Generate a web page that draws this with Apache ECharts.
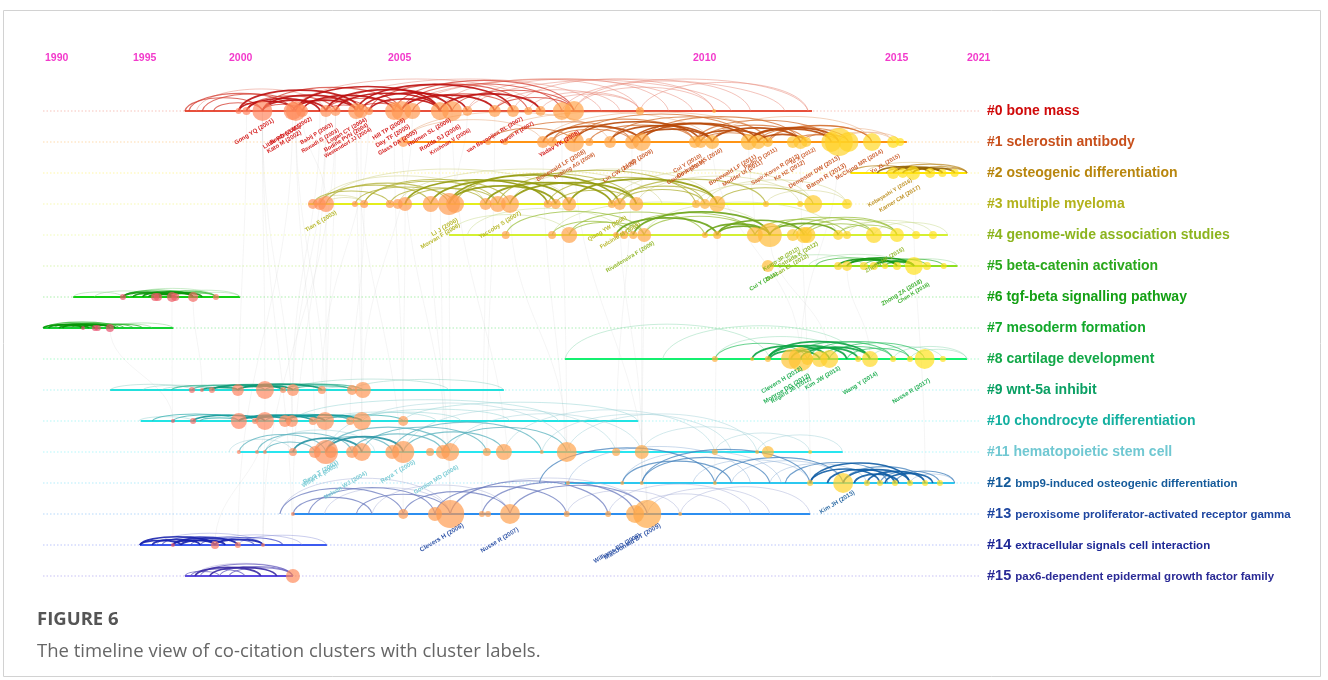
<!DOCTYPE html>
<html>
<head>
<meta charset="utf-8">
<title>Timeline view of co-citation clusters</title>
<script src="https://cdn.jsdelivr.net/npm/echarts@6/dist/echarts.min.js"></script>
<style>
  html, body { margin: 0; padding: 0; background: #ffffff; }
  #chart { position: absolute; left: 0; top: 0; width: 1328px; height: 680px; }
</style>
</head>
<body>
<div id="chart"></div>
<script>
// ---------------------------------------------------------------------------
// Data
// ---------------------------------------------------------------------------
const YEAR_TICKS = [1990, 1995, 2000, 2005, 2010, 2015, 2021];

const CLUSTER_IDS = ['#0', '#1', '#2', '#3', '#4', '#5', '#6', '#7', '#8', '#9', '#10', '#11', '#12', '#13', '#14', '#15'];
const CLUSTER_NAMES = [
  'bone mass', 'sclerostin antibody', 'osteogenic differentiation', 'multiple myeloma',
  'genome-wide association studies', 'beta-catenin activation', 'tgf-beta signalling pathway',
  'mesoderm formation', 'cartilage development', 'wnt-5a inhibit', 'chondrocyte differentiation',
  'hematopoietic stem cell', 'bmp9-induced osteogenic differentiation',
  'peroxisome proliferator-activated receptor gamma', 'extracellular signals cell interaction',
  'pax6-dependent epidermal growth factor family'
];

// active period of each cluster (first year, last year)
const CLUSTER_SPANS = [
  [1997.7, 2013.1], [2005.25, 2016.6], [2014.1, 2021.0], [2002.5, 2014.1],
  [2006.0, 2019.6], [2012.0, 2020.3], [1991.6, 2000.35], [1989.9, 1997.1],
  [2007.9, 2021.0], [1993.7, 2006.9], [1995.4, 2009.1], [2000.35, 2013.9],
  [2007.9, 2020.1], [2002.0, 2013.05], [1995.36, 2003.08], [1997.71, 2002.01]
];

// cited references per cluster: [year, citations, label]
const NODES_0 = [
  [2000.3, 9], [2000.55, 16], [2001.05, 100, 'Gong YQ (2001)'], [2002.0, 81, 'Little RD (2002)'],
  [2002.1, 100, 'Kato M (2002)'], [2002.3, 36, 'Boyden LM (2002)'], [2003.05, 36, 'Babij P (2003)'],
  [2003.35, 25, 'Rawadi G (2003)'], [2004.0, 64, 'Logan CY (2004)'], [2004.15, 49, 'Bodine PVN (2004)'],
  [2004.4, 16, 'Westendorf JJ (2004)'], [2005.1, 81, 'Hill TP (2005)'], [2005.22, 100, 'Day TF (2005)'],
  [2005.4, 64, 'Glass DA (2005)'], [2005.85, 81, 'Holmen SL (2005)'], [2006.05, 100, 'Rodda SJ (2006)'],
  [2006.3, 25, 'Krishnan V (2006)'], [2006.75, 36], [2007.05, 36, 'van Bezooijen RL (2007)'],
  [2007.3, 16, 'Baron R (2007)'], [2007.5, 25], [2007.85, 81], [2008.05, 100, 'Yadav VK (2008)'],
  [2009.13, 16], [2010.55, 4]
];
const NODES_1 = [
  [2005.25, 25], [2006.64, 9], [2006.92, 9], [2007.54, 36], [2007.69, 25],
  [2008.05, 100, 'Bonewald LF (2008)'], [2008.3, 16, 'Robling AG (2008)'], [2008.64, 36],
  [2009.0, 49, 'Lin CW (2009)'], [2009.16, 81, 'Li XD (2009)'], [2010.05, 36, 'Cui Y (2010)'],
  [2010.2, 36, 'Gaudio A (2010)'], [2010.5, 49, 'Ominsky MS (2010)'], [2011.45, 64, 'Bonewald LF (2011)'],
  [2011.7, 49, 'Modder UI (2011)'], [2011.95, 25, 'Padhi D (2011)'], [2012.6, 36, 'Sapir-Koren R (2012)'],
  [2012.8, 49, 'Ke HZ (2012)'], [2012.95, 25, 'Tu X (2012)'], [2013.6, 100, 'Dempster DW (2013)'],
  [2013.8, 196, 'Baron R (2013)'], [2014.05, 100], [2014.66, 81, 'McClung MR (2014)'],
  [2015.6, 36, 'Yu XL (2015)'], [2016.1, 16]
];
const NODES_2 = [
  [2015.6, 36], [2016.3, 25, 'Kobayashi Y (2016)'], [2017.05, 49, 'Karner CM (2017)'],
  [2018.3, 25], [2019.2, 16], [2020.1, 16]
];
const NODES_3 = [
  [2002.64, 25], [2002.86, 36], [2003.05, 64, 'Tian E (2003)'], [2003.96, 9], [2004.25, 16],
  [2005.03, 16], [2005.16, 25], [2005.28, 49], [2005.7, 64], [2006.0, 121, 'Li J (2006)'],
  [2006.1, 81, 'Morvan F (2006)'], [2006.6, 36], [2006.8, 64], [2007.0, 81, 'Yaccoby S (2007)'],
  [2007.62, 16], [2007.75, 25], [2007.97, 49], [2008.67, 16], [2008.8, 36, 'Qiang YW (2008)'],
  [2009.07, 49, 'Fulciniti M (2009)'], [2010.08, 16], [2010.31, 25], [2010.63, 64],
  [2011.9, 9], [2012.79, 9], [2013.13, 81], [2014.01, 25]
];
const NODES_4 = [
  [2006.93, 16], [2007.69, 16], [2007.97, 64], [2008.74, 9], [2008.87, 16], [2009.02, 16],
  [2009.2, 49, 'Rivadeneira F (2009)'], [2010.31, 9], [2010.63, 16], [2011.61, 64],
  [2012.0, 144], [2012.6, 36, 'Kemp JP (2012)'], [2012.89, 64, 'Duncan EL (2012)'],
  [2012.98, 64, 'Estrada K (2012)'], [2013.78, 25], [2014.01, 16], [2014.71, 64],
  [2015.88, 49, 'Zheng HF (2015)'], [2017.27, 16], [2018.51, 16]
];
const NODES_5 = [
  [2011.95, 36, 'Cui Y (2011)'], [2013.78, 16], [2014.01, 25], [2014.45, 16], [2014.71, 16],
  [2015.0, 9], [2015.88, 16], [2017.12, 81, 'Zhong ZA (2018)'], [2018.07, 16, 'Chen K (2018)'],
  [2019.3, 9]
];
const NODES_6 = [
  [1994.43, 9], [1996.15, 16], [1996.3, 16], [1997.03, 25], [1997.2, 16], [1998.13, 25], [1999.32, 9]
];
const NODES_7 = [[1992.16, 4], [1992.84, 9], [1993.0, 9], [1993.69, 16]];
const NODES_8 = [
  [2010.57, 9], [2011.54, 4], [2011.95, 9], [2012.55, 100, 'Clevers H (2012)'],
  [2012.8, 144, 'Monroe DG (2012)'], [2012.98, 36, 'Regard JB (2012)'], [2013.3, 64],
  [2013.55, 81, 'Kim JW (2013)'], [2014.3, 9], [2014.61, 64, 'Wang Y (2014)'], [2015.59, 9],
  [2016.83, 9], [2017.9, 100, 'Nusse R (2017)'], [2019.24, 9]
];
const NODES_9 = [
  [1998.07, 9], [1998.59, 4], [1999.11, 9], [2000.28, 36], [2001.13, 81], [2001.7, 9],
  [2002.01, 36], [2002.92, 16], [2003.87, 25], [2004.21, 64]
];
const NODES_10 = [
  [1997.08, 4], [1998.13, 9], [2000.31, 64], [2000.82, 9], [2001.13, 81], [2001.76, 36],
  [2001.98, 36], [2002.64, 16], [2003.02, 81], [2003.81, 16], [2004.18, 81], [2005.25, 25]
];
const NODES_11 = [
  [2000.31, 4], [2000.88, 4], [2001.13, 4], [2002.01, 16], [2002.7, 36],
  [2003.05, 144, 'Reya T (2003)'], [2003.2, 36, 'Willert K (2003)'], [2003.87, 36],
  [2004.18, 81, 'Nelson WJ (2004)'], [2005.07, 49], [2005.25, 121, 'Reya T (2005)'],
  [2005.69, 16], [2005.9, 49], [2006.02, 81, 'Gordon MD (2006)'], [2006.62, 16], [2006.9, 64],
  [2007.52, 4], [2007.93, 100], [2008.74, 16], [2009.16, 49], [2010.57, 9], [2011.67, 4],
  [2011.95, 36], [2013.05, 4]
];
const NODES_12 = [
  [2007.95, 4], [2008.84, 4], [2009.16, 4], [2010.57, 4], [2013.05, 9], [2013.91, 100, 'Kim JH (2013)'],
  [2014.53, 9], [2014.87, 9], [2015.73, 9], [2016.83, 9], [2017.93, 9], [2019.02, 9]
];
const NODES_13 = [
  [2002.01, 4], [2005.25, 25], [2005.77, 49], [2006.02, 196, 'Clevers H (2006)'], [2006.54, 9],
  [2006.64, 9], [2007.0, 100, 'Nusse R (2007)'], [2007.93, 9], [2008.61, 9],
  [2009.05, 81, 'Williams BO (2009)'], [2009.25, 196, 'MacDonald BT (2009)'], [2009.79, 4]
];
const NODES_14 = [[1997.08, 4], [1999.27, 16], [2000.28, 9], [2001.07, 4]];
const NODES_15 = [[2002.01, 49]];

// co-citation links inside each cluster: [from year, to year, strength 1..3]
const ARCS_0 = [
  [1997.7, 2001.05, 2], [1997.9, 2002.0, 2], [1998.3, 2003.05, 1], [2000.3, 2002.1, 3],
  [2000.55, 2003.35, 2], [2001.05, 2003.05, 3], [2001.05, 2004.0, 3], [2001.05, 2005.22, 2],
  [2002.0, 2004.0, 3], [2002.1, 2005.85, 3], [2003.05, 2005.22, 2], [2003.35, 2005.85, 3],
  [2004.0, 2005.22, 2], [2004.0, 2007.05, 3], [2005.22, 2006.75, 3], [2005.22, 2007.85, 2],
  [2005.85, 2007.5, 3], [2005.85, 2009.13, 1], [2006.75, 2008.05, 2], [2007.05, 2010.55, 1],
  [2007.5, 2009.13, 1], [2008.05, 2010.55, 1], [2007.85, 2013.0, 1], [2009.13, 2013.0, 1],
  [2002.0, 2007.5, 1], [2003.35, 2008.5, 1], [2005.22, 2011.0, 1], [2006.3, 2012.4, 1],
  [1998.6, 2002.3, 2], [2000.3, 2004.15, 3], [2002.3, 2005.1, 3], [2002.1, 2004.4, 2],
  [2003.05, 2006.05, 3], [2004.15, 2006.3, 3], [2005.1, 2008.05, 2], [2004.4, 2007.3, 2],
  [2006.05, 2008.05, 2], [2001.05, 2002.3, 2], [2006.3, 2009.6, 1], [2005.4, 2010.0, 1],
  [1999.2, 2001.05, 2], [2000.55, 2002.86, 3], [2003.05, 2004.15, 2], [2004.4, 2005.85, 3],
  [2005.4, 2007.05, 2], [2006.75, 2008.8, 1], [2007.3, 2009.13, 1], [2008.05, 2011.5, 1]
];
const ARCS_1 = [
  [2005.25, 2007.54, 1], [2005.25, 2008.64, 1], [2006.64, 2008.05, 2], [2006.92, 2009.0, 2],
  [2007.54, 2009.16, 3], [2007.69, 2010.05, 2], [2008.05, 2010.2, 3], [2008.05, 2011.45, 2],
  [2008.64, 2010.5, 3], [2009.0, 2011.45, 3], [2009.16, 2011.7, 3], [2009.16, 2012.8, 2],
  [2010.05, 2011.95, 3], [2010.2, 2012.95, 2], [2010.5, 2012.8, 3], [2011.45, 2013.8, 3],
  [2011.7, 2014.05, 2], [2011.95, 2014.66, 2], [2012.8, 2014.05, 2], [2012.95, 2015.6, 1],
  [2013.8, 2016.1, 1], [2010.5, 2014.66, 1], [2007.54, 2012.0, 1], [2006.64, 2010.5, 1],
  [2008.3, 2010.05, 2], [2009.0, 2010.5, 3], [2011.45, 2013.6, 3], [2012.6, 2013.8, 2],
  [2010.2, 2011.7, 2], [2012.0, 2014.66, 2], [2013.6, 2015.6, 1], [2007.69, 2009.0, 2],
  [2008.64, 2011.95, 2], [2010.05, 2013.6, 2], [2011.7, 2012.95, 3]
];
const ARCS_2 = [
  [2014.1, 2017.05, 2], [2014.8, 2018.3, 3], [2015.6, 2019.2, 3], [2015.6, 2021.0, 2],
  [2017.05, 2020.1, 3], [2017.05, 2021.0, 2], [2018.3, 2021.0, 2], [2014.5, 2020.1, 1],
  [2016.3, 2019.2, 3], [2015.1, 2018.3, 2]
];
const ARCS_3 = [
  [2002.64, 2005.03, 2], [2002.86, 2005.7, 2], [2003.05, 2004.25, 1], [2003.05, 2006.0, 2],
  [2003.96, 2006.1, 2], [2004.25, 2006.8, 2], [2005.03, 2006.6, 2], [2005.28, 2007.62, 3],
  [2005.7, 2007.97, 3], [2006.0, 2008.8, 3], [2006.1, 2009.07, 2], [2006.6, 2008.67, 3],
  [2006.8, 2010.08, 2], [2007.0, 2009.07, 3], [2007.62, 2010.31, 2], [2007.97, 2010.63, 3],
  [2008.67, 2010.63, 2], [2008.8, 2011.9, 2], [2009.07, 2012.79, 1], [2010.08, 2013.13, 1],
  [2010.31, 2014.01, 1], [2010.63, 2013.13, 2], [2003.05, 2008.0, 1], [2005.16, 2009.5, 1],
  [2002.64, 2004.25, 1], [2011.9, 2014.01, 1], [2006.0, 2007.75, 3], [2005.28, 2006.8, 2],
  [2007.75, 2009.07, 2], [2008.8, 2010.31, 2], [2002.86, 2006.6, 1], [2004.25, 2007.0, 2],
  [2007.0, 2010.63, 1], [2008.67, 2013.13, 1]
];
const ARCS_4 = [
  [2006.0, 2007.97, 1], [2006.3, 2008.87, 1], [2006.93, 2009.2, 2], [2007.69, 2009.02, 2],
  [2007.97, 2010.31, 2], [2008.74, 2010.63, 3], [2008.87, 2011.61, 2], [2009.02, 2012.0, 3],
  [2009.2, 2011.61, 2], [2010.31, 2012.0, 3], [2010.63, 2012.89, 3], [2011.61, 2012.98, 2],
  [2011.61, 2014.01, 2], [2012.0, 2013.78, 3], [2012.0, 2014.71, 2], [2012.89, 2015.88, 2],
  [2012.98, 2014.71, 2], [2013.78, 2017.27, 1], [2014.01, 2018.51, 1], [2014.71, 2019.6, 1],
  [2007.69, 2012.0, 1], [2009.2, 2013.78, 1], [2012.6, 2015.88, 2], [2013.78, 2015.88, 2],
  [2007.97, 2009.2, 2], [2010.63, 2012.0, 3]
];
const ARCS_5 = [
  [2012.0, 2014.45, 1], [2013.2, 2015.0, 2], [2013.78, 2015.88, 3], [2014.01, 2017.12, 3],
  [2014.45, 2018.07, 2], [2014.71, 2017.12, 3], [2015.0, 2019.3, 2], [2015.88, 2020.3, 1],
  [2013.0, 2016.5, 1], [2014.01, 2015.88, 3], [2015.0, 2017.12, 2]
];
const ARCS_6 = [
  [1991.6, 1994.43, 1], [1992.8, 1996.15, 1], [1994.43, 1997.03, 3], [1994.43, 1998.13, 2],
  [1995.0, 1997.03, 3], [1995.5, 1998.13, 3], [1996.15, 1998.13, 3], [1996.15, 1999.32, 2],
  [1997.03, 1999.32, 2], [1997.03, 2000.35, 1], [1994.8, 1999.32, 1], [1998.13, 2000.35, 1],
  [1995.8, 1997.2, 3], [1996.3, 1998.6, 3]
];
const ARCS_7 = [
  [1989.9, 1992.16, 3], [1990.2, 1992.84, 3], [1990.5, 1993.69, 2], [1991.0, 1993.69, 3],
  [1991.5, 1994.5, 2], [1992.16, 1995.0, 2], [1992.84, 1995.5, 2], [1993.0, 1996.0, 1],
  [1993.69, 1997.1, 1], [1990.0, 1994.2, 2], [1990.8, 1992.5, 3], [1992.0, 1994.0, 3]
];
const ARCS_8 = [
  [2007.9, 2012.0, 1], [2009.5, 2014.3, 1], [2010.57, 2012.98, 2], [2011.54, 2013.55, 3],
  [2011.95, 2014.01, 3], [2011.95, 2014.61, 3], [2012.55, 2015.59, 2], [2012.8, 2014.61, 3],
  [2012.98, 2016.83, 2], [2013.3, 2015.59, 2], [2013.55, 2017.9, 2], [2014.01, 2016.83, 2],
  [2014.61, 2019.24, 1], [2015.59, 2021.0, 1], [2016.83, 2021.0, 1], [2010.57, 2014.01, 1],
  [2012.0, 2013.3, 3], [2012.55, 2014.3, 3]
];
const ARCS_9 = [
  [1993.7, 1998.07, 1], [1995.5, 1999.11, 1], [1997.0, 2000.28, 2], [1998.07, 2001.13, 2],
  [1998.59, 2000.28, 3], [1999.11, 2001.7, 3], [1999.11, 2002.01, 2], [2000.28, 2002.01, 3],
  [2000.28, 2002.92, 3], [2001.13, 2003.87, 2], [2001.7, 2004.21, 2], [2002.01, 2003.87, 2],
  [2002.92, 2004.21, 1], [2003.87, 2006.9, 1], [2002.01, 2006.0, 1], [1996.5, 1999.11, 1]
];
const ARCS_10 = [
  [1995.3, 1998.13, 1], [1996.0, 2000.31, 2], [1997.08, 2000.82, 2], [1998.13, 2001.13, 3],
  [1998.5, 2000.31, 2], [2000.31, 2001.98, 3], [2000.31, 2002.64, 3], [2000.82, 2003.02, 3],
  [2001.13, 2003.81, 2], [2001.76, 2004.18, 3], [2002.64, 2004.18, 2], [2003.02, 2005.25, 2],
  [2003.81, 2006.2, 1], [2004.18, 2007.0, 1], [2005.25, 2009.1, 1], [2002.0, 2007.8, 1],
  [2003.0, 2005.8, 1]
];
const ARCS_11 = [
  [2000.0, 2002.01, 1], [2000.31, 2003.05, 2], [2000.88, 2003.87, 2], [2001.13, 2002.7, 2],
  [2002.01, 2004.18, 3], [2002.7, 2005.07, 2], [2003.05, 2005.25, 3], [2003.05, 2006.02, 2],
  [2003.87, 2005.9, 2], [2004.18, 2006.62, 2], [2005.07, 2007.52, 2], [2005.25, 2006.9, 2],
  [2005.25, 2008.74, 1], [2005.9, 2007.93, 2], [2006.02, 2009.16, 1], [2006.9, 2010.57, 1],
  [2007.52, 2011.0, 1], [2007.93, 2011.67, 1], [2009.16, 2011.95, 1], [2010.57, 2013.05, 1],
  [2011.67, 2013.9, 1], [2003.05, 2008.0, 1], [2001.13, 2004.6, 1]
];
const ARCS_12 = [
  [2007.48, 2010.57, 2], [2007.95, 2011.5, 1], [2008.84, 2011.0, 2], [2008.84, 2012.3, 1],
  [2009.16, 2012.0, 2], [2009.16, 2013.05, 2], [2010.0, 2013.05, 1], [2010.57, 2013.91, 2],
  [2011.0, 2013.91, 1], [2012.0, 2014.53, 1], [2013.05, 2014.87, 3], [2013.05, 2016.83, 3],
  [2013.5, 2015.73, 3], [2013.91, 2016.83, 3], [2013.91, 2017.93, 2], [2014.53, 2017.93, 3],
  [2014.87, 2019.02, 2], [2015.73, 2020.1, 2], [2016.83, 2020.1, 1], [2012.4, 2015.2, 2],
  [2014.2, 2016.0, 3], [2015.0, 2018.5, 3]
];
const ARCS_13 = [
  [2001.6, 2005.25, 2], [2001.6, 2006.02, 1], [2002.01, 2004.5, 2], [2002.5, 2005.77, 2],
  [2003.0, 2006.02, 1], [2004.0, 2006.02, 2], [2005.25, 2007.0, 2], [2005.77, 2007.93, 2],
  [2006.02, 2008.61, 2], [2006.02, 2009.25, 1], [2006.54, 2009.05, 2], [2007.0, 2009.25, 2],
  [2007.93, 2009.79, 1], [2008.61, 2011.5, 1], [2009.05, 2011.0, 1], [2009.25, 2012.0, 1],
  [2009.79, 2013.05, 1], [2004.5, 2007.0, 1]
];
const ARCS_14 = [
  [1995.36, 1997.5, 3], [1995.36, 1999.27, 3], [1996.0, 1998.5, 3], [1996.5, 2000.28, 2],
  [1997.08, 1999.27, 3], [1997.08, 2000.28, 3], [1998.0, 2001.07, 2], [1999.27, 2001.07, 3],
  [1999.27, 2001.7, 2], [2000.28, 2003.08, 1], [1999.0, 2002.3, 1], [1996.2, 2001.07, 1],
  [1997.5, 1999.8, 3], [1998.5, 2000.8, 2]
];
const ARCS_15 = [
  [1997.71, 1999.5, 2], [1998.0, 2000.5, 2], [1998.23, 2001.0, 3], [1998.5, 2002.01, 2],
  [1999.0, 2001.5, 3], [1999.5, 2002.01, 2], [1998.23, 2002.01, 1], [2000.0, 2002.01, 2]
];

// links between clusters: [cluster, year, cluster, year]
const CROSS_LINKS = [
  [0, 2001.05, 9, 2001.13], [0, 2002.1, 10, 2003.02], [0, 2003.35, 11, 2003.05], [0, 2004.0, 11, 2004.18],
  [0, 2005.22, 13, 2006.02], [0, 2006.05, 13, 2007.0], [0, 2005.1, 11, 2005.25], [0, 2002.0, 14, 2000.28],
  [0, 2001.05, 15, 2002.01], [0, 2004.15, 10, 2004.18], [1, 2008.05, 13, 2009.25], [1, 2009.16, 12, 2009.16],
  [1, 2010.5, 8, 2012.8], [1, 2011.45, 4, 2011.61], [1, 2013.8, 8, 2012.8], [3, 2006.0, 11, 2006.02],
  [3, 2005.7, 13, 2006.02], [3, 2007.0, 11, 2007.93], [4, 2009.2, 12, 2009.16], [4, 2012.0, 8, 2013.55],
  [0, 2007.85, 11, 2007.93], [0, 2005.4, 9, 2004.21], [9, 2001.13, 14, 2001.07], [10, 2001.13, 14, 1999.27],
  [6, 1997.03, 14, 1997.08], [7, 1993.69, 10, 1997.08], [0, 2003.05, 13, 2002.01], [3, 2003.05, 11, 2003.05],
  [0, 2006.3, 3, 2006.1], [0, 2002.3, 3, 2003.05], [1, 2007.54, 13, 2007.93], [11, 2009.16, 13, 2009.25],
  [5, 2014.01, 8, 2014.61], [2, 2017.05, 12, 2017.93], [0, 2004.4, 9, 2002.92], [0, 2003.05, 10, 2001.98],
  [3, 2005.28, 10, 2005.25], [0, 2002.1, 11, 2002.7], [0, 2000.55, 10, 2000.31], [0, 2001.05, 11, 2002.01],
  [0, 2004.0, 13, 2005.25], [0, 2005.85, 11, 2005.9], [3, 2006.6, 13, 2006.54], [3, 2008.8, 11, 2009.16],
  [1, 2009.0, 11, 2008.74], [4, 2010.63, 12, 2010.57], [0, 2002.86, 9, 2002.01], [6, 1998.13, 9, 1998.59],
  [0, 2003.35, 14, 2001.07], [3, 2004.25, 10, 2003.81], [0, 2006.75, 11, 2006.62], [1, 2012.8, 12, 2013.05]
];

const CLUSTER_NODES = [NODES_0, NODES_1, NODES_2, NODES_3, NODES_4, NODES_5, NODES_6, NODES_7,
  NODES_8, NODES_9, NODES_10, NODES_11, NODES_12, NODES_13, NODES_14, NODES_15];
const CLUSTER_ARCS = [ARCS_0, ARCS_1, ARCS_2, ARCS_3, ARCS_4, ARCS_5, ARCS_6, ARCS_7,
  ARCS_8, ARCS_9, ARCS_10, ARCS_11, ARCS_12, ARCS_13, ARCS_14, ARCS_15];

// ---------------------------------------------------------------------------
// Styles
// ---------------------------------------------------------------------------
const LABEL_COLORS = ['#d00a0a', '#c8501c', '#b8860e', '#b2b21c', '#8cb41e', '#2aa81c', '#14a014', '#12a82a',
  '#12a848', '#0aa064', '#14b0a0', '#70c8d2', '#145a9a', '#1e46a0', '#1e2896', '#2a2a96'];
const LINE_COLORS = ['#e8503c', '#ff9414', '#ffe600', '#e4ee1c', '#d4f032', '#8ee01e', '#12d012', '#14d232',
  '#14f070', '#22e0dc', '#22e4e4', '#28e6f0', '#2cc8f0', '#2c8ef0', '#3c5af0', '#5c4ae0'];
// strong, medium, faint link colours
const ARC_COLORS = [
  ['#bc1010', '#d43c30', '#e68070'], ['#b84808', '#d47030', '#e6a070'], ['#946406', '#bc8c28', '#d6b870'],
  ['#929a0c', '#b0b034', '#ccce80'], ['#6ca418', '#9cc040', '#c6da88'], ['#149814', '#48bc48', '#96d696'],
  ['#0a960a', '#3abc3a', '#8ed68e'], ['#069606', '#2ab42a', '#7ece7e'], ['#0ca444', '#3ac46c', '#8edab0'],
  ['#0c9874', '#3ab494', '#8ecebf'], ['#109898', '#3ab2b2', '#8ed0d0'], ['#2692a2', '#5ab2be', '#a0d0d8'],
  ['#105ca4', '#4482bc', '#90b2d6'], ['#3448aa', '#6a7abe', '#a6aed6'], ['#1822ac', '#444cc4', '#9096da'],
  ['#3a2aa2', '#665cbe', '#a69ed6']
];
// how high a link rises for its horizontal length: [factor, ceiling in px]
const ARC_LIFT = [
  [0.17, 32], [0.16, 30], [0.12, 14], [0.17, 35], [0.17, 33], [0.12, 17], [0.1, 13], [0.08, 10],
  [0.17, 37], [0.07, 14], [0.08, 22], [0.2, 50], [0.2, 40], [0.21, 36], [0.11, 16], [0.13, 14]
];
// horizontal room given to each period between two year ticks
const PERIOD_PX = [88, 96, 159, 305, 192, 82];
const NODE_RAMP = [
  [1990, [226, 62, 112]], [1997, [238, 90, 100]], [2000, [255, 128, 96]], [2004, [255, 148, 84]],
  [2009, [255, 166, 70]], [2012, [255, 186, 52]], [2013.5, [255, 208, 40]], [2016, [255, 224, 26]]
];

// ---------------------------------------------------------------------------
// Time scale: piecewise linear between the year ticks
// ---------------------------------------------------------------------------
const PERIOD_START = [0];
PERIOD_PX.forEach((w, i) => PERIOD_START.push(PERIOD_START[i] + w));
const X_MAX = PERIOD_START[PERIOD_START.length - 1];
function warp(year) {
  let i = 0;
  while (i < PERIOD_PX.length - 1 && year > YEAR_TICKS[i + 1]) i++;
  const t0 = YEAR_TICKS[i], t1 = YEAR_TICKS[i + 1];
  return PERIOD_START[i] + (year - t0) / (t1 - t0) * PERIOD_PX[i];
}
function nodeColor(year) {
  let i = 0;
  while (i < NODE_RAMP.length - 2 && year > NODE_RAMP[i + 1][0]) i++;
  const [y0, c0] = NODE_RAMP[i], [y1, c1] = NODE_RAMP[i + 1];
  const t = Math.max(0, Math.min(1, (year - y0) / (y1 - y0)));
  const c = c0.map((v, k) => Math.round(v + (c1[k] - v) * t));
  return 'rgba(' + c.join(',') + ',0.86)';
}

// text widths for the two-size cluster labels
const measureCtx = document.createElement('canvas').getContext('2d');
function textWidth(text, font) { measureCtx.font = font; return measureCtx.measureText(text).width; }
const LABEL_FONT_BIG = 'bold 14px "Liberation Sans"';
const LABEL_FONT_ID = 'bold 14.5px "Liberation Sans"';
const LABEL_FONT_SMALL = 'bold 11.5px "Liberation Sans"';

// ---------------------------------------------------------------------------
// Series data
// ---------------------------------------------------------------------------
const rowData = CLUSTER_SPANS.map((s, i) => [warp(s[0]), i, warp(s[1])]);

const arcData = [];
CLUSTER_ARCS.forEach((arcs, c) => arcs.forEach(a => arcData.push([warp(a[0]), c, warp(a[1]), a[2]])));
arcData.sort((a, b) => a[3] - b[3]);

const linkData = CROSS_LINKS.map(l => [warp(l[1]), l[0], warp(l[3]), l[2]]);

const nodeData = [];
const labelData = [];
const labelText = [];
CLUSTER_NODES.forEach((nodes, c) => {
  let k = 0;
  nodes.forEach(n => {
    const r = Math.sqrt(n[1]);
    nodeData.push({ value: [warp(n[0]), c], symbolSize: 2 * r, itemStyle: { color: nodeColor(n[0]) } });
    if (n[2]) {
      labelData.push([warp(n[0]), c, r, k % 3]);
      labelText.push(n[2]);
      k++;
    }
  });
});
nodeData.sort((a, b) => b.symbolSize - a.symbolSize);

const clusterLabelData = CLUSTER_IDS.map((id, i) => [X_MAX, i]);

// ---------------------------------------------------------------------------
// Chart
// ---------------------------------------------------------------------------
const chart = echarts.init(document.getElementById('chart'), null, { renderer: 'canvas' });

const tickMap = {};
YEAR_TICKS.forEach(y => { tickMap[Math.round(warp(y))] = String(y); });

chart.setOption({
  animation: false,
  backgroundColor: '#ffffff',
  grid: { left: 45, top: 111, width: X_MAX, bottom: 104 },
  xAxis: {
    type: 'value', min: 0, max: X_MAX, position: 'top',
    axisLine: { show: false }, axisTick: { show: false }, splitLine: { show: false },
    axisLabel: {
      customValues: YEAR_TICKS.map(warp),
      formatter: v => tickMap[Math.round(v)] || '',
      color: '#f23acb', fontWeight: 'bold', fontSize: 10.5, fontFamily: 'Liberation Sans',
      align: 'left', margin: 47
    }
  },
  yAxis: { type: 'value', min: 0, max: 15, inverse: true, show: false },
  graphic: [
    { type: 'rect', shape: { x: 3.5, y: 10.5, width: 1317, height: 666 }, style: { fill: null, stroke: '#d2d2d2', lineWidth: 1 }, silent: true },
    { type: 'text', left: 37, top: 610, style: { text: 'FIGURE 6', font: 'bold 18.5px "Open Sans"', fill: '#555555' } },
    { type: 'text', left: 37, top: 642, style: { text: 'The timeline view of co-citation clusters with cluster labels.', font: '18.5px "Open Sans"', fill: '#666666' } }
  ],
  series: [
    {
      // faint links between clusters
      type: 'custom', name: 'cross links', silent: true, clip: false, z: 1,
      data: linkData,
      renderItem: (params, api) => {
        const p1 = api.coord([api.value(0), api.value(1)]);
        const p2 = api.coord([api.value(2), api.value(3)]);
        const dy = p2[1] - p1[1];
        return {
          type: 'bezierCurve',
          shape: { x1: p1[0], y1: p1[1], x2: p2[0], y2: p2[1], cpx1: p1[0], cpy1: p1[1] + dy * 0.45, cpx2: p2[0], cpy2: p2[1] - dy * 0.45 },
          style: { stroke: 'rgba(160,160,160,0.11)', lineWidth: 1, fill: null }
        };
      }
    },
    {
      // timeline of every cluster
      type: 'custom', name: 'timelines', silent: true, clip: false, z: 2,
      data: rowData,
      renderItem: (params, api) => {
        const c = api.value(1);
        const p1 = api.coord([api.value(0), c]);
        const p2 = api.coord([api.value(2), c]);
        const cs = params.coordSys;
        return {
          type: 'group',
          children: [
            { type: 'line', shape: { x1: cs.x - 2, y1: p1[1], x2: cs.x + cs.width + 14, y2: p1[1] },
              style: { stroke: LINE_COLORS[c], opacity: 0.35, lineWidth: 1, lineDash: [1.5, 2] } },
            { type: 'line', shape: { x1: p1[0], y1: p1[1], x2: p2[0], y2: p2[1] },
              style: { stroke: LINE_COLORS[c], lineWidth: 2 } }
          ]
        };
      }
    },
    {
      // co-citation links inside clusters
      type: 'custom', name: 'links', silent: true, clip: false, z: 3,
      data: arcData,
      renderItem: (params, api) => {
        const c = api.value(1), w = api.value(3);
        const p1 = api.coord([api.value(0), c]);
        const p2 = api.coord([api.value(2), c]);
        const span = Math.abs(p2[0] - p1[0]);
        const h = Math.min(span * ARC_LIFT[c][0], ARC_LIFT[c][1]);
        const lift = h * 4 / 3;
        return {
          type: 'bezierCurve',
          shape: { x1: p1[0], y1: p1[1], x2: p2[0], y2: p2[1],
            cpx1: p1[0] + span * 0.06, cpy1: p1[1] - lift, cpx2: p2[0] - span * 0.06, cpy2: p2[1] - lift },
          style: { stroke: ARC_COLORS[c][3 - w], fill: null, lineWidth: [0.8, 1.1, 1.7][w - 1], opacity: [0.6, 0.75, 0.9][w - 1] }
        };
      }
    },
    {
      type: 'scatter', name: 'references', silent: true, clip: false, z: 4,
      symbol: 'circle', data: nodeData
    },
    {
      // reference labels
      type: 'custom', name: 'reference labels', silent: true, clip: false, z: 5,
      data: labelData,
      renderItem: (params, api) => {
        const c = api.value(1), r = api.value(2), s = api.value(3);
        const p = api.coord([api.value(0), c]);
        const size = 5 + r * 0.1;
        return {
          type: 'text',
          x: p[0] + r * 0.45 + 5 - s * 3, y: p[1] + r * 0.45 + 2 + s * 6,
          rotation: 31 * Math.PI / 180,
          style: { text: labelText[params.dataIndex], fill: LABEL_COLORS[c], font: 'bold ' + size.toFixed(1) + 'px "Liberation Sans"', align: 'right', verticalAlign: 'top', opacity: 0.9 }
        };
      }
    },
    {
      // cluster names at the end of each timeline
      type: 'custom', name: 'cluster labels', silent: true, clip: false, z: 6,
      data: clusterLabelData,
      renderItem: (params, api) => {
        const i = params.dataIndex;
        const p = api.coord([api.value(0), api.value(1)]);
        const x = p[0] + 20;
        if (i < 12) {
          return { type: 'text', x: x, y: p[1],
            style: { text: CLUSTER_IDS[i] + ' ' + CLUSTER_NAMES[i], fill: LABEL_COLORS[i], font: LABEL_FONT_BIG, align: 'left', verticalAlign: 'middle' } };
        }
        const w = textWidth(CLUSTER_IDS[i] + ' ', LABEL_FONT_ID);
        return { type: 'group', children: [
          { type: 'text', x: x, y: p[1],
            style: { text: CLUSTER_IDS[i], fill: LABEL_COLORS[i], font: LABEL_FONT_ID, align: 'left', verticalAlign: 'middle' } },
          { type: 'text', x: x + w, y: p[1] + 0.5,
            style: { text: CLUSTER_NAMES[i], fill: LABEL_COLORS[i], font: LABEL_FONT_SMALL, align: 'left', verticalAlign: 'middle' } }
        ] };
      }
    }
  ]
});
</script>
</body>
</html>
